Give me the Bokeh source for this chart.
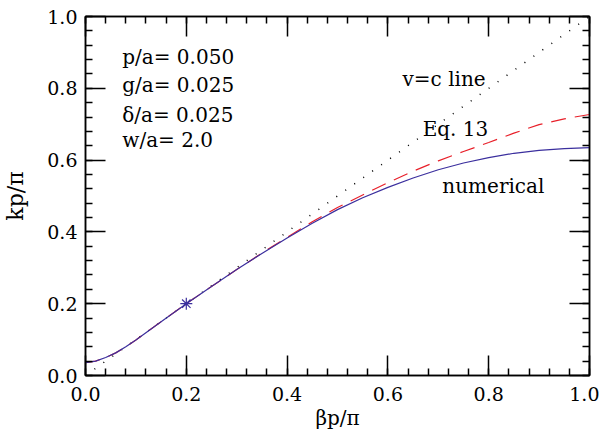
from bokeh.plotting import figure
from bokeh.models import LinearAxis, FixedTicker, PrintfTickFormatter, CustomJSTickFormatter, Range1d, Label
from bokeh.embed import file_html
from bokeh.resources import INLINE

# data
x_num = [0, 0.02, 0.04, 0.06, 0.08, 0.1, 0.15, 0.2, 0.25, 0.3, 0.35, 0.4, 0.45, 0.5,
         0.55, 0.6, 0.65, 0.7, 0.75, 0.8, 0.85, 0.9, 0.95, 1.0]
y_num = [0.036, 0.040, 0.050, 0.063, 0.080, 0.099, 0.150, 0.200, 0.248, 0.295, 0.340,
         0.383, 0.424, 0.462, 0.495, 0.524, 0.550, 0.573, 0.592, 0.607, 0.619, 0.627,
         0.632, 0.635]
x_eq = [0, 0.02, 0.04, 0.06, 0.08, 0.1, 0.15, 0.2, 0.25, 0.3, 0.35, 0.4, 0.45, 0.5,
        0.55, 0.6, 0.65, 0.7, 0.75, 0.8, 0.85, 0.9, 0.95, 1.0]
y_eq = [0.036, 0.040, 0.050, 0.063, 0.080, 0.099, 0.150, 0.200, 0.248, 0.295, 0.341,
        0.385, 0.428, 0.468, 0.503, 0.537, 0.569, 0.598, 0.624, 0.649, 0.675, 0.699,
        0.715, 0.727]
x_light = [0.0, 1.0]
y_light = [0.0, 1.0]
x_mark = [0.2]
y_mark = [0.2]
params = ["p/a= 0.050", "g/a= 0.025", "\u03b4/a= 0.025", "w/a= 2.0"]
param_y = [0.886, 0.808, 0.727, 0.655]
tick_vals = [0.0, 0.2, 0.4, 0.6, 0.8, 1.0]
minor_vals = [i * 0.04 for i in range(26)]

FONT = "DejaVu Serif"
BLUE = "#3b2f9e"
RED = "#e8202a"

p = figure(frame_width=504, frame_height=359, output_backend="svg", toolbar_location=None,
           x_range=Range1d(0, 1), y_range=Range1d(0, 1),
           min_border_left=84, min_border_right=10, min_border_top=16, min_border_bottom=55,
           x_axis_label="\u03b2p/\u03c0", y_axis_label="kp/\u03c0")
p.grid.visible = False
p.outline_line_color = "black"
p.outline_line_width = 1.5

p.line(x_light, y_light, line_color="black", line_dash="1 10", line_width=1.5)
p.line(x_eq, y_eq, line_color=RED, line_dash="15 9", line_width=1.2)
p.line(x_num, y_num, line_color=BLUE, line_width=1.2)
p.scatter(x_mark, y_mark, marker="asterisk", size=12, line_color=BLUE, line_width=1.2)

def style(ax, labels=True):
    ax.ticker = FixedTicker(ticks=tick_vals, minor_ticks=minor_vals)
    ax.major_tick_in = 20
    ax.major_tick_out = 0
    ax.minor_tick_in = 7
    ax.minor_tick_out = 0
    ax.major_tick_line_width = 1.5
    ax.minor_tick_line_width = 1.5
    ax.axis_line_width = 1.5
    ax.major_tick_line_color = "black"
    ax.minor_tick_line_color = "black"
    ax.axis_line_color = "black"
    ax.formatter = PrintfTickFormatter(format="%.1f")
    ax.major_label_text_font = FONT
    ax.major_label_text_font_size = "19px"
    ax.major_label_text_color = "black"
    ax.axis_label_text_font = FONT
    ax.axis_label_text_font_size = "20px"
    ax.axis_label_text_font_style = "normal"
    ax.axis_label_text_color = "black"
    if not labels:
        ax.formatter = CustomJSTickFormatter(code="return ''")
        ax.major_label_text_font_size = "1px"
        ax.major_label_standoff = 0

style(p.xaxis[0])
style(p.yaxis[0])
p.xaxis[0].major_label_standoff = 11
p.xaxis[0].axis_label_standoff = 2
p.yaxis[0].major_label_standoff = 8
p.yaxis[0].axis_label_standoff = 16
p.yaxis[0].axis_label_text_font_size = "22px"

top = LinearAxis()
right = LinearAxis()
style(top, labels=False)
style(right, labels=False)
p.add_layout(top, "above")
p.add_layout(right, "right")

for t, yy in zip(params, param_y):
    p.add_layout(Label(x=0.073, y=yy, text=t, text_font=FONT, text_font_size="20px",
                       text_baseline="middle", text_align="left", text_color="black"))

p.add_layout(Label(x=0.629, y=0.826, text="v=c line", text_font=FONT, text_font_size="20px",
                   text_baseline="middle", text_color="black"))
p.add_layout(Label(x=0.669, y=0.688, text="Eq. 13", text_font=FONT, text_font_size="20px",
                   text_baseline="middle", text_color="black"))
p.add_layout(Label(x=0.708, y=0.527, text="numerical", text_font=FONT, text_font_size="20px",
                   text_baseline="middle", text_color="black"))

open("out.html", "w").write(file_html(p, INLINE))
